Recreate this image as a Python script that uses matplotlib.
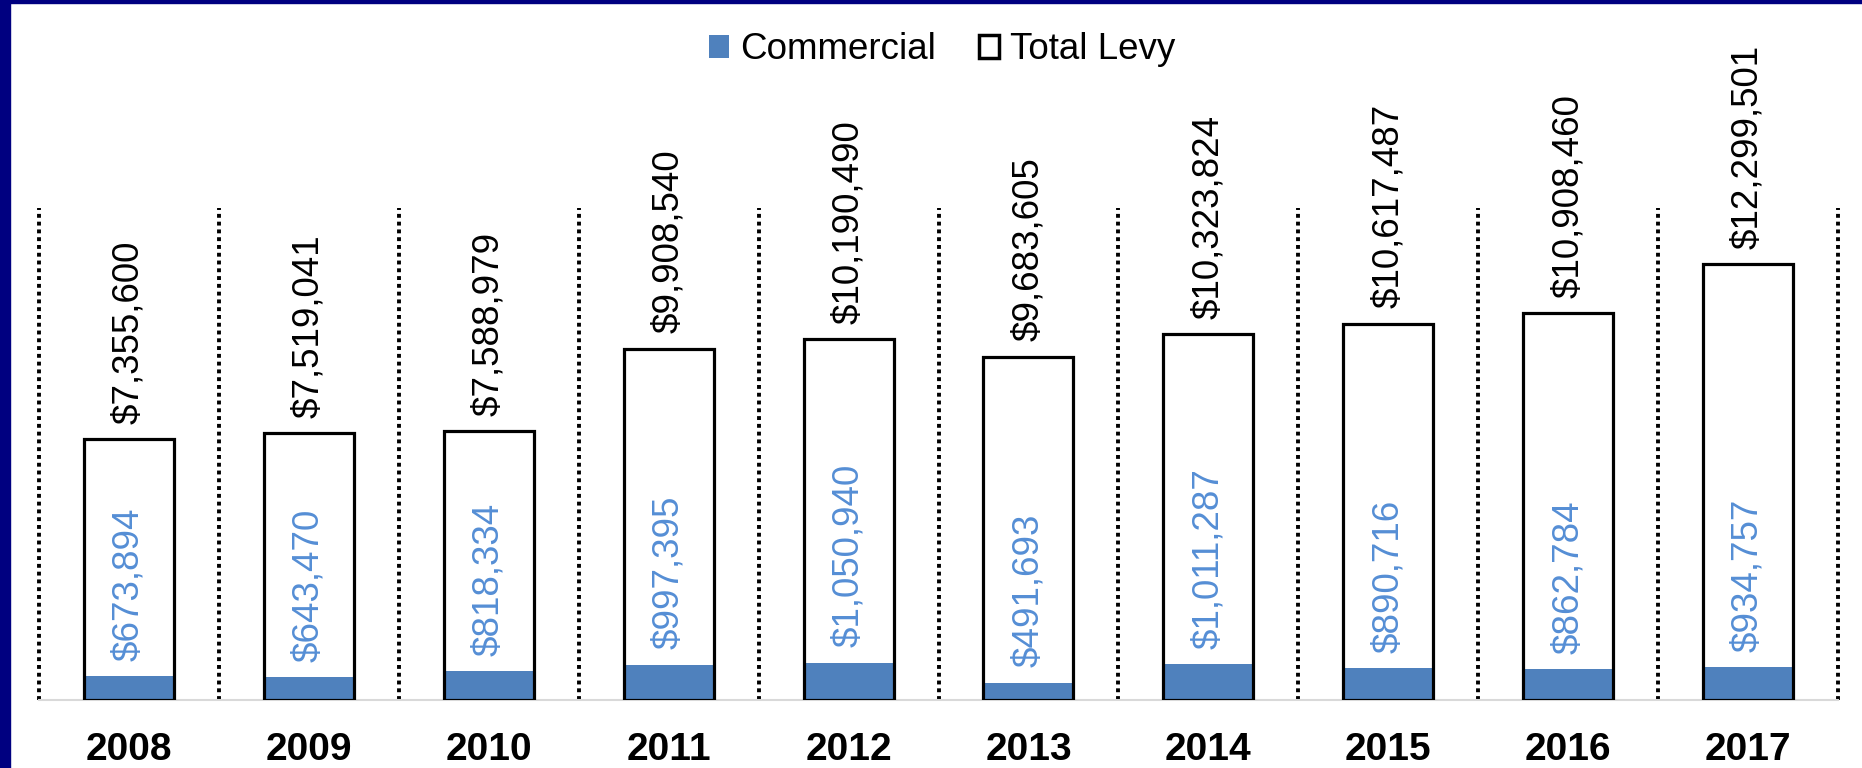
import matplotlib.pyplot as plt
from matplotlib.patches import Rectangle

years = ['2008', '2009', '2010', '2011', '2012', '2013', '2014', '2015', '2016', '2017']
commercial = [673894, 643470, 818334, 997395, 1050940, 491693, 1011287, 890716, 862784, 934757]
total_levy = [7355600, 7519041, 7588979, 9908540, 10190490, 9683605, 10323824, 10617487, 10908460, 12299501]

plt.rcParams['font.family'] = ['Liberation Sans', 'DejaVu Sans']

W, H = 1862, 768
fig = plt.figure(figsize=(W / 100, H / 100), dpi=100)
ax = fig.add_axes([39 / W, 68 / H, (1838 - 39) / W, (700 - 208) / H])

x = list(range(len(years)))
bw = 0.5

# white fill first, commercial on top, then the black outline over both
ax.bar(x, total_levy, width=bw, color='white', zorder=2)
ax.bar(x, commercial, width=bw, color='#4F81BD', zorder=3)
ax.bar(x, total_levy, width=bw, facecolor='none', edgecolor='black', linewidth=2.3, zorder=4)

for i in x:
    ax.annotate(f'${total_levy[i]:,}', (i, total_levy[i]), xytext=(0, 11),
                textcoords='offset points', rotation=90, ha='center', va='bottom',
                fontsize=26.5, color='black')
    ax.annotate(f'${commercial[i]:,}', (i, commercial[i]), xytext=(0, 11),
                textcoords='offset points', rotation=90, ha='center', va='bottom',
                fontsize=26.5, color='#558ED5', zorder=5)

# dotted separators between the years
for i in range(len(years) + 1):
    ax.axvline(i - 0.5, color='black', linestyle=(0, (1, 1)), linewidth=2.8, zorder=1, clip_on=False)

ax.set_xlim(-0.5, len(years) - 0.5)
ax.set_ylim(0, 13.88e6)

ax.set_xticks(x)
ax.set_xticklabels(years, fontsize=28, fontweight='bold')
ax.tick_params(axis='x', length=0, pad=23)
ax.set_yticks([])

for s in ['top', 'right', 'left']:
    ax.spines[s].set_visible(False)
ax.spines['bottom'].set_color('#D9D9D9')
ax.spines['bottom'].set_linewidth(1.5)

handles = [Rectangle((0, 0), 1, 1, facecolor='#4F81BD', edgecolor='none'),
           Rectangle((0, 0), 1, 1, facecolor='white', edgecolor='black', linewidth=2.5)]
fig.legend(handles, ['Commercial', 'Total Levy'], loc='center', bbox_to_anchor=(0.506, 0.935),
           ncol=2, frameon=False, fontsize=26.5, handlelength=0.55, handleheight=0.6,
           handletextpad=0.3, columnspacing=1.15, borderpad=0)

# navy frame strips on the left and top edges
fig.patches.append(Rectangle((0, 0), 10 / W, 1, transform=fig.transFigure, color='#000080', zorder=10))
fig.patches.append(Rectangle((0, 1 - 3 / H), 1, 3 / H, transform=fig.transFigure, color='#000080', zorder=10))

fig.savefig('out.png', dpi=100, facecolor='white')
